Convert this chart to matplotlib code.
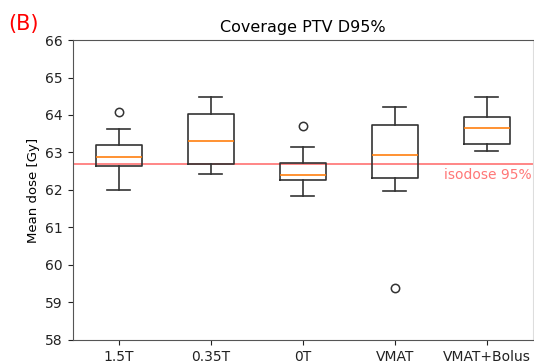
import matplotlib
matplotlib.use("Agg")
import matplotlib.pyplot as plt

categories = ["1.5T", "0.35T", "0T", "VMAT", "VMAT+Bolus"]
whislo = [61.99, 62.42, 61.84, 61.97, 63.05]
q1 = [62.65, 62.70, 62.27, 62.32, 63.23]
med = [62.89, 63.31, 62.39, 62.93, 63.66]
q3 = [63.19, 64.03, 62.73, 63.73, 63.95]
whishi = [63.63, 64.49, 63.15, 64.21, 64.47]
fliers = [[64.09], [], [63.70], [59.39], []]
isodose = 62.7

stats = []
for i, c in enumerate(categories):
    stats.append(dict(label=c, whislo=whislo[i], q1=q1[i], med=med[i],
                      q3=q3[i], whishi=whishi[i], fliers=fliers[i]))

plt.rcParams['font.family'] = ['DejaVu Sans']
fig = plt.figure(figsize=(5.34, 3.63), dpi=100)
ax = fig.add_axes([0.136, 0.0634, 0.862, 0.8264])

lc = '#333333'
ax.bxp(stats, widths=0.5,
       boxprops=dict(color=lc, linewidth=1.2),
       whiskerprops=dict(color=lc, linewidth=1.2),
       capprops=dict(color=lc, linewidth=1.2),
       medianprops=dict(color='#ff7f0e', linewidth=1.2),
       flierprops=dict(marker='o', markerfacecolor='none', markeredgecolor=lc,
                       markersize=6, markeredgewidth=1.1))

ax.axhline(isodose, color='#ff6666', linewidth=1.1, zorder=0)
ax.text(5.49, isodose - 0.12, 'isodose 95%', color='#ff7777', fontsize=10,
        ha='right', va='top')

ax.set_xlim(0.5, 5.5)
ax.set_ylim(58, 66)
ax.set_yticks(range(58, 67))
ax.tick_params(labelsize=10, colors='#222222')
for s in ax.spines.values():
    s.set_color('#555555')
ax.spines['right'].set_color('#dddddd')
ax.set_ylabel('Mean dose [Gy]', fontsize=9.5)
ax.set_title('Coverage PTV D95%', fontsize=11.5, pad=6)
fig.text(0.015, 0.935, '(B)', color='red', fontsize=15, ha='left', va='center')

fig.savefig('out.png', dpi=100)
